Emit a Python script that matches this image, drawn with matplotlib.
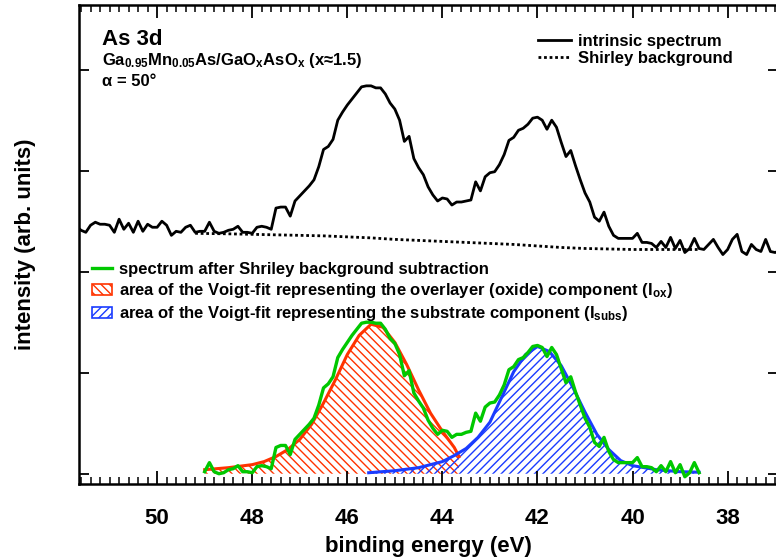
"""As 3d core-level spectrum of GaMnAs with native oxide: intrinsic spectrum,
Shirley background, background-subtracted spectrum and two Voigt components."""
import matplotlib
matplotlib.use("Agg")
import matplotlib.pyplot as plt
import numpy as np
from matplotlib.lines import Line2D
from matplotlib.patches import Patch
from matplotlib.ticker import MultipleLocator, NullLocator

plt.rcParams.update({
    "font.family": "Liberation Sans", "font.weight": "bold",
    "mathtext.fontset": "custom", "mathtext.rm": "Liberation Sans:bold",
    "mathtext.it": "Liberation Sans:bold", "mathtext.bf": "Liberation Sans:bold",
    "hatch.linewidth": 1.0,
})

# ---- data (binding energy in eV, intensity in arb. units) ----
RAW_START, STEP = 51.7, 0.1
raw_intensity = [
    2.45, 2.41, 2.39, 2.46, 2.49, 2.47, 2.47, 2.46, 2.39, 2.52,
    2.42, 2.48, 2.39, 2.50, 2.40, 2.47, 2.44, 2.44, 2.50, 2.46,
    2.36, 2.40, 2.39, 2.44, 2.46, 2.39, 2.40, 2.40, 2.49, 2.40,
    2.38, 2.39, 2.41, 2.42, 2.45, 2.39, 2.39, 2.38, 2.44, 2.45,
    2.44, 2.42, 2.63, 2.64, 2.64, 2.55, 2.70, 2.75, 2.80, 2.85,
    2.91, 3.04, 3.21, 3.24, 3.31, 3.50, 3.58, 3.65, 3.71, 3.77,
    3.83, 3.84, 3.84, 3.82, 3.82, 3.76, 3.67, 3.61, 3.50, 3.29,
    3.34, 3.12, 3.03, 2.96, 2.84, 2.76, 2.70, 2.73, 2.72, 2.66,
    2.69, 2.69, 2.70, 2.71, 2.89, 2.80, 2.94, 2.98, 2.99, 3.06,
    3.16, 3.30, 3.33, 3.40, 3.42, 3.46, 3.52, 3.53, 3.50, 3.41,
    3.50, 3.43, 3.28, 3.14, 3.20, 3.05, 2.91, 2.78, 2.69, 2.54,
    2.50, 2.59, 2.45, 2.36, 2.33, 2.33, 2.33, 2.33, 2.38, 2.29,
    2.29, 2.28, 2.24, 2.30, 2.24, 2.34, 2.23, 2.31, 2.19, 2.23,
    2.33, 2.23, 2.22, 2.27, 2.32, 2.24, 2.17, 2.22, 2.32, 2.37,
    2.20, 2.17, 2.27, 2.22, 2.20, 2.32, 2.20, 2.19, 2.21,
]
raw_energy = np.round(RAW_START - STEP * np.arange(len(raw_intensity)), 1)

shirley_energy = [49.2, 48.5, 48.0, 47.5, 47.0, 46.5, 46.0, 45.5, 45.0, 44.5, 44.0,
                  43.5, 43.0, 42.5, 42.0, 41.5, 41.0, 40.5, 40.0, 39.5, 39.0, 38.6]
shirley_intensity = [2.38, 2.375, 2.37, 2.365, 2.36, 2.355, 2.345, 2.335, 2.32, 2.31, 2.30,
                     2.29, 2.28, 2.27, 2.255, 2.24, 2.23, 2.225, 2.22, 2.22, 2.22, 2.22]

SUB_START = 49.0
sub_intensity = [
    0.02, 0.11, 0.02, 0.00, 0.01, 0.04, 0.05, 0.08, 0.02, 0.02,
    0.01, 0.07, 0.08, 0.07, 0.05, 0.26, 0.28, 0.28, 0.19, 0.34,
    0.39, 0.44, 0.49, 0.55, 0.68, 0.85, 0.89, 0.96, 1.15, 1.23,
    1.30, 1.37, 1.43, 1.49, 1.50, 1.50, 1.49, 1.49, 1.43, 1.34,
    1.29, 1.18, 0.97, 1.02, 0.80, 0.72, 0.65, 0.53, 0.45, 0.39,
    0.43, 0.42, 0.36, 0.39, 0.39, 0.41, 0.42, 0.60, 0.52, 0.66,
    0.70, 0.71, 0.78, 0.88, 1.03, 1.06, 1.13, 1.15, 1.20, 1.26,
    1.27, 1.25, 1.16, 1.25, 1.18, 1.04, 0.90, 0.96, 0.81, 0.68,
    0.55, 0.46, 0.31, 0.27, 0.36, 0.22, 0.14, 0.11, 0.11, 0.11,
    0.11, 0.16, 0.07, 0.07, 0.06, 0.02, 0.08, 0.02, 0.12, 0.01,
    0.09, -0.03, 0.01, 0.11, 0.01,
]
sub_energy = np.round(SUB_START - STEP * np.arange(len(sub_intensity)), 1)

ox_energy = [49.0, 48.5, 48.0, 47.75, 47.5, 47.25, 47.0, 46.75, 46.5, 46.25, 46.0,
             45.75, 45.5, 45.25, 45.0, 44.75, 44.5, 44.25, 44.0, 43.75, 43.65]
ox_intensity = [0.04, 0.06, 0.09, 0.12, 0.17, 0.24, 0.34, 0.49, 0.70, 0.93, 1.18,
                1.37, 1.48, 1.45, 1.30, 1.08, 0.83, 0.60, 0.42, 0.26, 0.17]

subs_energy = [45.55, 45.0, 44.5, 44.0, 43.75, 43.5, 43.25, 43.0, 42.75, 42.5, 42.25, 42.0,
               41.75, 41.5, 41.25, 41.0, 40.75, 40.5, 40.25, 40.0, 39.5, 39.0, 38.6]
subs_intensity = [0.01, 0.03, 0.06, 0.12, 0.18, 0.25, 0.36, 0.51, 0.76, 1.01, 1.18, 1.26,
                  1.21, 1.07, 0.85, 0.61, 0.39, 0.24, 0.13, 0.08, 0.04, 0.02, 0.015]

RED, BLUE, GREEN = "#FF3300", "#1A3CFF", "#00C800"
FONT = {"size": 12, "weight": "bold"}
RED_HATCH, BLUE_HATCH = "\\\\\\\\", "////"

fig = plt.figure(figsize=(7.76, 5.6), dpi=100)
ax = fig.add_axes([0.102, 0.136, 0.900, 0.855])

# hatched Voigt areas first, curves on top
ax.fill_between(ox_energy, ox_intensity, 0, facecolor="none", edgecolor=RED,
                hatch=RED_HATCH, lw=0)
ax.fill_between(subs_energy, subs_intensity, 0, facecolor="none", edgecolor=BLUE,
                hatch=BLUE_HATCH, lw=0)
ax.plot(ox_energy, ox_intensity, color=RED, lw=2.2)
ax.plot(subs_energy, subs_intensity, color=BLUE, lw=2.2)
ax.plot(sub_energy, sub_intensity, color=GREEN, lw=2.4)
ax.plot(shirley_energy, shirley_intensity, color="k", lw=2.0, ls=(0, (1, 1)))
ax.plot(raw_energy, raw_intensity, color="k", lw=2.0)

ax.set_xlim(51.64, 36.95)
ax.set_ylim(-0.1, 4.64)
ax.xaxis.set_major_locator(MultipleLocator(2))
ax.xaxis.set_minor_locator(MultipleLocator(0.2))
ax.yaxis.set_major_locator(MultipleLocator(1))
ax.yaxis.set_minor_locator(NullLocator())
ax.tick_params(which="both", direction="in", top=True, right=True, labelsize=16, pad=17.5)
ax.tick_params(which="major", length=9.5, width=1.3)
ax.tick_params(which="minor", length=5, width=1.1)
ax.tick_params(axis="y", length=7.5, labelleft=False)
for s in ax.spines.values():
    s.set_linewidth(1.8)

ax.set_xlabel("binding energy (eV)", fontsize=16, fontweight="bold", labelpad=5)
ax.set_ylabel("intensity (arb. units)", fontsize=16, fontweight="bold", labelpad=31)

ax.text(0.033, 0.9165, "As 3d", transform=ax.transAxes, fontsize=16, va="baseline")
ax.text(0.033, 0.875, r"Ga$_{0.95}$Mn$_{0.05}$As/GaO$_x$AsO$_x$ (x≈1.5)",
        transform=ax.transAxes, fontsize=12, va="baseline")
ax.text(0.033, 0.831, "α = 50°", transform=ax.transAxes, fontsize=12, va="baseline")

leg1 = ax.legend(
    handles=[Line2D([], [], color="k", lw=2.0),
             Line2D([], [], color="k", lw=2.0, ls=(0, (1, 1)))],
    labels=["intrinsic spectrum", "Shirley background"],
    loc="upper left", bbox_to_anchor=(0.657, 0.94), frameon=False,
    handlelength=2.0, handletextpad=0.4, labelspacing=0.15, borderpad=0,
    borderaxespad=0, prop=FONT)
ax.add_artist(leg1)
ax.legend(
    handles=[Line2D([], [], color=GREEN, lw=2.4),
             Patch(facecolor="none", edgecolor=RED, hatch=RED_HATCH, lw=1.2),
             Patch(facecolor="none", edgecolor=BLUE, hatch=BLUE_HATCH, lw=1.2)],
    labels=["spectrum after Shriley background subtraction",
            r"area of the Voigt-fit representing the overlayer (oxide) component (I$_{ox}$)",
            r"area of the Voigt-fit representing the substrate component (I$_{subs}$)"],
    loc="upper left", bbox_to_anchor=(0.0186, 0.463), frameon=False,
    handlelength=1.2, handleheight=0.65, handletextpad=0.4, labelspacing=0.25,
    borderpad=0, borderaxespad=0, prop=FONT)

fig.savefig("out.png", dpi=100)
